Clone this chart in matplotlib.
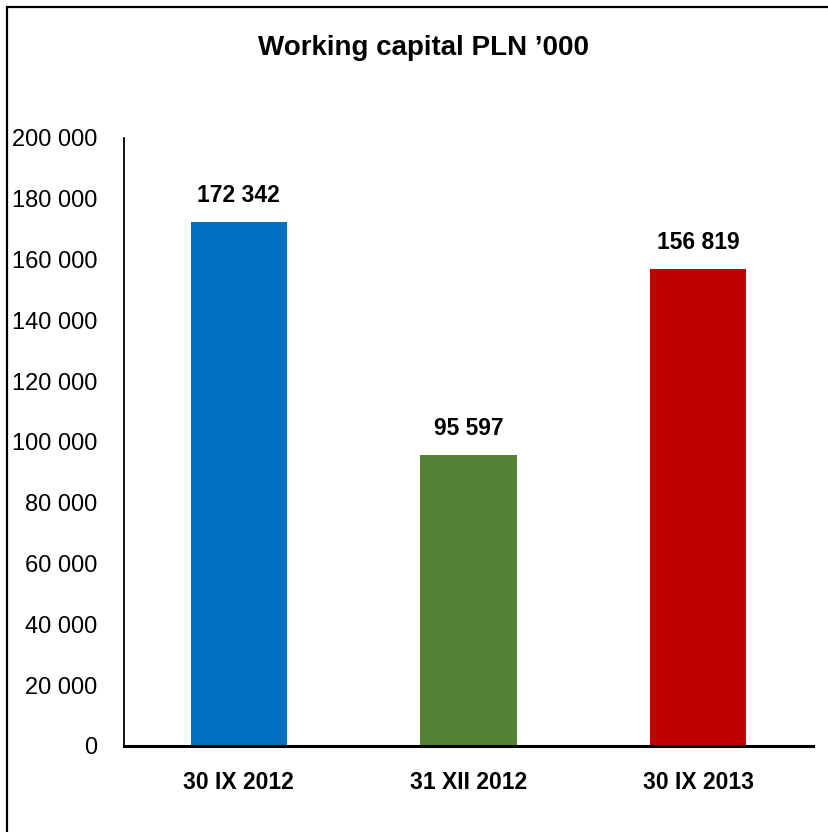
import matplotlib.pyplot as plt
from matplotlib.patches import Rectangle
from matplotlib.ticker import FuncFormatter

categories = ['30 IX 2012', '31 XII 2012', '30 IX 2013']
values = [172342, 95597, 156819]
colors = ['#0070C0', '#548235', '#C00000']


def spaced(v, pos=None):
    return '{:,.0f}'.format(v).replace(',', ' ')


plt.rcParams['font.family'] = ['Liberation Sans', 'DejaVu Sans']

fig = plt.figure(figsize=(8.29, 8.32), dpi=100)
ax = fig.add_axes([124 / 829, 1 - 746 / 832, (813 - 124) / 829, (746 - 138) / 832])

x = range(len(categories))
ax.bar(x, values, width=0.42, color=colors)
for i, v in zip(x, values):
    ax.annotate(spaced(v), (i, v), xytext=(0, 11), textcoords='offset points',
                ha='center', va='bottom', fontsize=16.5, fontweight='bold')

ax.set_xlim(-0.5, len(categories) - 0.5)
ax.set_ylim(0, 200000)
ax.set_yticks(range(0, 200001, 20000))
ax.yaxis.set_major_formatter(FuncFormatter(spaced))
ax.set_xticks(list(x))
ax.set_xticklabels(categories, fontweight='bold')
ax.tick_params(axis='y', length=0, pad=19, labelsize=17)
ax.tick_params(axis='x', length=0, pad=18, labelsize=16.5)

for s in ['top', 'right']:
    ax.spines[s].set_visible(False)
ax.spines['left'].set_linewidth(1.3)
ax.spines['bottom'].set_linewidth(2.2)

fig.text(423 / 829, 1 - 48 / 832, 'Working capital PLN \u2019000', ha='center', va='center',
         fontsize=20, fontweight='bold')

fig.patches.append(Rectangle((7.5 / 829, -0.1), 1.2, 1 - 6.5 / 832 + 0.1, transform=fig.transFigure,
                             fill=False, edgecolor='black', linewidth=1.6))

fig.savefig('out.png', dpi=100)
